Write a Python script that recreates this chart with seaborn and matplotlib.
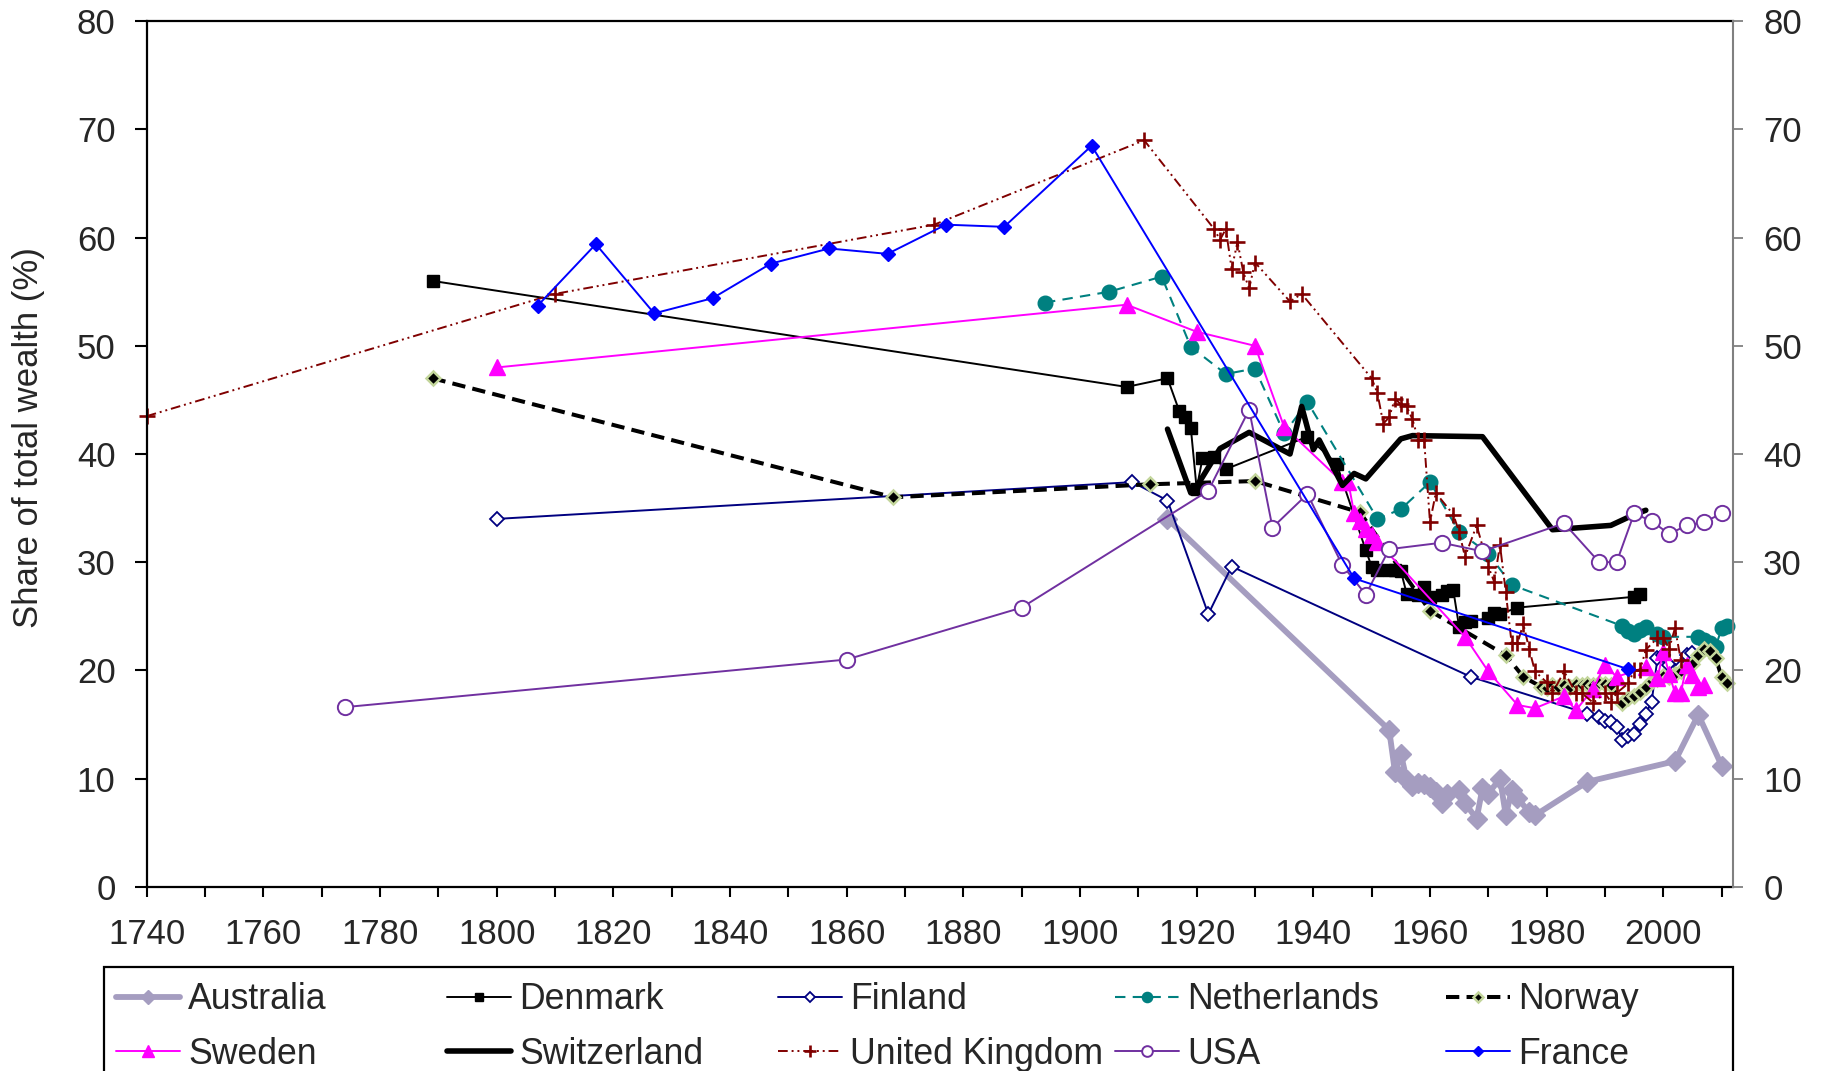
import matplotlib
matplotlib.use("Agg")
import matplotlib.pyplot as plt
from matplotlib.ticker import MultipleLocator, FuncFormatter
from matplotlib.patches import Rectangle
import seaborn as sns

# ---- top wealth shares by country (year, share of total wealth in %) ----
australia_years = [1915, 1953, 1954, 1955, 1956, 1957, 1958, 1959, 1960, 1961, 1962, 1963,
                   1965, 1966, 1968, 1969, 1970, 1972, 1973, 1974, 1975, 1977, 1978, 1987,
                   2002, 2006, 2010]
australia_share = [34.0, 14.5, 10.6, 12.3, 9.9, 9.3, 9.6, 9.5, 9.2, 8.8, 7.7, 8.6,
                   8.9, 7.7, 6.3, 9.1, 8.6, 10.0, 6.6, 8.9, 8.2, 6.9, 6.6, 9.7,
                   11.6, 15.9, 11.2]

denmark_years = [1789, 1908, 1915, 1917, 1918, 1919, 1920, 1921, 1923, 1925, 1939, 1944,
                 1949, 1950, 1951, 1953, 1954, 1955, 1956, 1958, 1959, 1960, 1962, 1963,
                 1964, 1965, 1966, 1967, 1970, 1971, 1972, 1975, 1995, 1996]
denmark_share = [56.0, 46.2, 47.0, 44.0, 43.4, 42.4, 36.8, 39.6, 39.7, 38.6, 41.6, 39.1,
                 31.1, 29.6, 29.3, 29.3, 29.3, 29.2, 27.1, 27.0, 27.7, 26.8, 27.0, 27.3,
                 27.4, 24.0, 24.5, 24.6, 24.8, 25.3, 25.2, 25.8, 26.8, 27.1]

finland_years = [1800, 1909, 1915, 1922, 1926, 1967, 1987, 1989, 1990, 1991, 1992, 1993,
                 1994, 1995, 1996, 1997, 1998, 1999, 2000, 2001, 2002, 2003, 2004, 2005]
finland_share = [34.0, 37.4, 35.7, 25.2, 29.6, 19.4, 16.0, 15.7, 15.3, 15.2, 14.8, 13.6,
                 13.9, 14.1, 15.0, 16.0, 17.1, 21.1, 21.4, 20.5, 19.9, 20.3, 21.4, 21.6]

netherlands_years = [1894, 1905, 1914, 1919, 1925, 1930, 1935, 1939, 1951, 1955, 1960, 1965,
                     1970, 1974, 1993, 1994, 1995, 1996, 1997, 1999, 2000, 2006, 2007, 2008,
                     2009, 2010, 2011]
netherlands_share = [54.0, 55.0, 56.4, 49.9, 47.4, 47.9, 41.9, 44.8, 34.0, 34.9, 37.4, 32.8,
                     30.8, 27.9, 24.1, 23.6, 23.4, 23.7, 24.0, 23.4, 23.1, 23.1, 22.8, 22.5,
                     22.2, 23.9, 24.1]

norway_years = [1789, 1868, 1912, 1930, 1948, 1960, 1973, 1976, 1979, 1980, 1981, 1982,
                1983, 1984, 1985, 1986, 1987, 1988, 1989, 1990, 1991, 1993, 1994, 1995,
                1996, 1997, 1998, 1999, 2000, 2001, 2002, 2003, 2004, 2005, 2006, 2007,
                2008, 2009, 2010, 2011]
norway_share = [47.0, 36.0, 37.2, 37.5, 34.6, 25.5, 21.4, 19.4, 18.5, 18.4, 18.6, 18.5,
                18.6, 18.5, 18.7, 18.6, 18.7, 18.6, 18.8, 18.7, 18.6, 17.0, 17.4, 17.6,
                18.0, 18.5, 19.0, 19.2, 19.5, 19.4, 19.7, 19.9, 20.3, 20.6, 21.4, 22.0,
                21.8, 21.1, 19.4, 18.8]

sweden_years = [1800, 1908, 1920, 1930, 1935, 1945, 1946, 1947, 1948, 1949, 1950, 1951,
                1966, 1970, 1975, 1978, 1983, 1985, 1988, 1990, 1992, 1997, 1999, 2000,
                2001, 2002, 2003, 2004, 2005, 2006, 2007]
sweden_share = [48.0, 53.8, 51.3, 50.0, 42.5, 37.4, 37.4, 34.5, 33.8, 33.1, 32.5, 31.9,
                23.1, 19.9, 16.8, 16.5, 17.6, 16.3, 18.3, 20.5, 19.4, 20.3, 19.3, 21.7,
                19.7, 17.9, 17.9, 20.5, 19.6, 18.5, 18.6]

switzerland_years = [1915, 1919, 1920, 1924, 1929, 1936, 1938, 1940, 1941, 1945, 1947, 1949,
                     1955, 1957, 1969, 1981, 1991, 1995, 1997]
switzerland_share = [42.3, 36.4, 37.0, 40.5, 42.0, 40.0, 44.4, 40.4, 41.3, 37.1, 38.2, 37.7,
                     41.4, 41.7, 41.6, 33.0, 33.4, 34.4, 34.8]

uk_years = [1740, 1810, 1875, 1911, 1923, 1924, 1925, 1926, 1927, 1928, 1929, 1930,
            1936, 1938, 1950, 1951, 1952, 1953, 1954, 1955, 1956, 1957, 1958, 1959,
            1960, 1961, 1964, 1965, 1966, 1968, 1970, 1971, 1972, 1973, 1974, 1975,
            1976, 1977, 1978, 1980, 1981, 1983, 1985, 1986, 1988, 1990, 1991, 1992,
            1994, 1995, 1996, 1997, 1999, 2000, 2001, 2002, 2003]
uk_share = [43.5, 54.8, 61.2, 69.0, 60.8, 59.8, 60.8, 57.1, 59.6, 56.8, 55.3, 57.7,
            54.1, 54.8, 47.0, 45.6, 42.8, 43.4, 45.1, 44.6, 44.4, 43.2, 41.3, 41.3,
            33.7, 36.4, 34.4, 32.8, 30.5, 33.4, 29.6, 28.2, 31.6, 27.2, 22.5, 22.5,
            24.3, 22.0, 19.9, 18.9, 17.9, 19.9, 17.9, 17.9, 17.0, 17.9, 17.1, 17.9,
            18.8, 20.0, 20.0, 21.9, 23.0, 23.0, 22.0, 23.9, 21.0]

usa_years = [1774, 1860, 1890, 1922, 1929, 1933, 1939, 1945, 1949, 1953, 1962, 1969,
             1983, 1989, 1992, 1995, 1998, 2001, 2004, 2007, 2010]
usa_share = [16.6, 21.0, 25.8, 36.6, 44.1, 33.2, 36.3, 29.7, 27.0, 31.2, 31.8, 31.0,
             33.6, 30.0, 30.0, 34.5, 33.8, 32.6, 33.4, 33.7, 34.5]

france_years = [1807, 1817, 1827, 1837, 1847, 1857, 1867, 1877, 1887, 1902, 1947, 1994]
france_share = [53.7, 59.4, 53.0, 54.4, 57.6, 59.0, 58.5, 61.2, 61.0, 68.5, 28.5, 20.1]

countries = ["Australia", "Denmark", "Finland", "Netherlands", "Norway",
             "Sweden", "Switzerland", "United Kingdom", "USA", "France"]
series = {
    "Australia": (australia_years, australia_share),
    "Denmark": (denmark_years, denmark_share),
    "Finland": (finland_years, finland_share),
    "Netherlands": (netherlands_years, netherlands_share),
    "Norway": (norway_years, norway_share),
    "Sweden": (sweden_years, sweden_share),
    "Switzerland": (switzerland_years, switzerland_share),
    "United Kingdom": (uk_years, uk_share),
    "USA": (usa_years, usa_share),
    "France": (france_years, france_share),
}

# line / marker style for each country
styles = {
    "Australia": dict(color="#A59DC0", linewidth=4.2, linestyle="-", marker="D",
                      markersize=10.5, markerfacecolor="#A59DC0", markeredgecolor="#A59DC0",
                      markeredgewidth=1),
    "Denmark": dict(color="black", linewidth=1.4, linestyle="-", marker="s",
                    markersize=9, markerfacecolor="black", markeredgecolor="black",
                    markeredgewidth=1),
    "Finland": dict(color="#000080", linewidth=1.4, linestyle="-", marker="D",
                    markersize=7.5, markerfacecolor="white", markeredgecolor="#000080",
                    markeredgewidth=1.3),
    "Netherlands": dict(color="#008080", linewidth=1.5, linestyle=(0, (5, 3.5)), marker="o",
                        markersize=10.5, markerfacecolor="#008080", markeredgecolor="#008080",
                        markeredgewidth=1),
    "Norway": dict(color="black", linewidth=2.9, linestyle=(0, (3.3, 1.8)), marker="D",
                   markersize=7, markerfacecolor="black", markeredgecolor="#C3D69B",
                   markeredgewidth=1.8),
    "Sweden": dict(color="#FF00FF", linewidth=1.4, linestyle="-", marker="^",
                   markersize=12, markerfacecolor="#FF00FF", markeredgecolor="#FF00FF",
                   markeredgewidth=1),
    "Switzerland": dict(color="black", linewidth=4.0, linestyle="-", marker="",
                        markersize=0),
    "United Kingdom": dict(color="#800000", linewidth=1.4,
                           linestyle=(0, (5, 2, 1, 2, 1, 2)), marker="+",
                           markersize=12, markerfacecolor="#800000",
                           markeredgecolor="#800000", markeredgewidth=1.9),
    "USA": dict(color="#7030A0", linewidth=1.4, linestyle="-", marker="o",
                markersize=11, markerfacecolor="white", markeredgecolor="#7030A0",
                markeredgewidth=1.4),
    "France": dict(color="#0000FF", linewidth=1.4, linestyle="-", marker="D",
                   markersize=7.5, markerfacecolor="#0000FF", markeredgecolor="#0000FF",
                   markeredgewidth=1),
}

sns.set_style("white")
plt.rcParams["font.family"] = ["Liberation Sans", "DejaVu Sans"]
FS = 25
LEG_FS = 25.7

W, H = 1821, 1071
fig = plt.figure(figsize=(W / 100, H / 100), dpi=100)
x0, x1, y0, y1 = 146.7, 1733.3, 21.3, 886.7
ax = fig.add_axes([x0 / W, 1 - y1 / H, (x1 - x0) / W, (y1 - y0) / H])

handles = {}
for name in countries:
    yrs, vals = series[name]
    sns.lineplot(x=yrs, y=vals, ax=ax, sort=False, estimator=None, errorbar=None,
                 legend=False, clip_on=False, **styles[name])
    handles[name] = ax.lines[-1]

ax.set_xlim(1740, 2012)
ax.set_ylim(0, 80)
ax.set_xlabel("")
ax.set_ylabel("")
ax.xaxis.set_major_locator(MultipleLocator(10))
ax.xaxis.set_major_formatter(
    FuncFormatter(lambda v, p: f"{int(round(v))}" if int(round(v)) % 20 == 0 else ""))
ax.yaxis.set_major_locator(MultipleLocator(10))
ax.tick_params(axis="x", bottom=True, direction="out", length=7.5, width=1.5,
               color="black", labelsize=FS, pad=15)
ax.tick_params(axis="y", left=True, direction="out", length=8.4, width=1.5,
               color="black", labelsize=FS, pad=14)
for side in ("left", "bottom", "top"):
    ax.spines[side].set_color("black")
    ax.spines[side].set_linewidth(1.6)
ax.spines["right"].set_visible(False)

ax2 = ax.twinx()
ax2.set_ylim(0, 80)
ax2.yaxis.set_major_locator(MultipleLocator(10))
ax2.tick_params(axis="y", right=True, direction="out", length=7.5, width=1.3,
                color="#808080", labelsize=FS, pad=14)
for side in ("left", "bottom", "top"):
    ax2.spines[side].set_visible(False)
ax2.spines["right"].set_color("#808080")
ax2.spines["right"].set_linewidth(1.5)

fig.text(29 / W, 0.591, "Share of total wealth (%)", rotation=90,
         ha="center", va="center", fontsize=FS)

# legend: two rows of five, laid out as evenly spaced columns inside one frame
row1 = ["Australia", "Denmark", "Finland", "Netherlands", "Norway"]
row2 = ["Sweden", "Switzerland", "United Kingdom", "USA", "France"]
col_x = [116, 447, 778, 1115, 1446]
for a, b, cx in zip(row1, row2, col_x):
    fig.legend([handles[a], handles[b]], [a, b], loc="upper left",
               bbox_to_anchor=(cx / W, 1 - 982 / H), frameon=False, fontsize=LEG_FS,
               handlelength=1.8, handletextpad=0.22, borderpad=0,
               borderaxespad=0, labelspacing=0.56, markerscale=0.7)
fig.add_artist(Rectangle((104 / W, -0.05), (1733 - 104) / W, (H - 967) / H + 0.05,
                         transform=fig.transFigure, fill=False,
                         edgecolor="black", linewidth=1.6))

fig.savefig("out.png", dpi=100)
